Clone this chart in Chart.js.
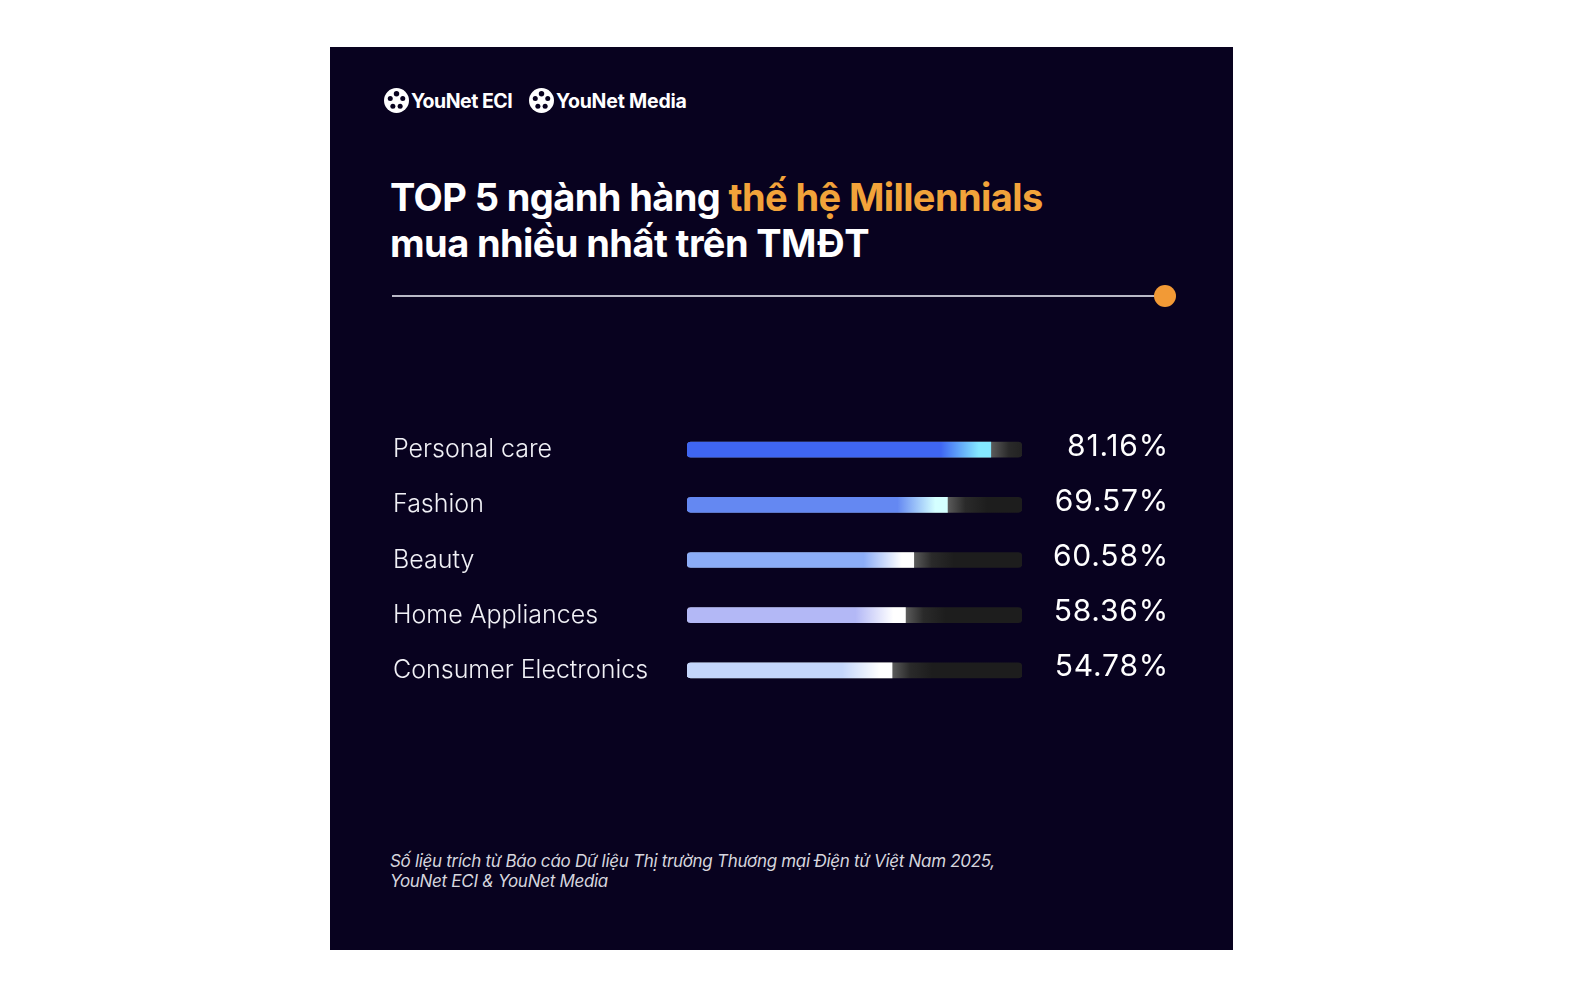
<!DOCTYPE html>
<html><head><meta charset="utf-8">
<script src="https://cdn.jsdelivr.net/npm/chart.js@4/dist/chart.umd.min.js"></script>
<style>
html,body{margin:0;padding:0;background:#fff;width:1576px;height:994px;overflow:hidden;font-family:Inter,"Noto Sans",sans-serif;}
#panel{position:absolute;left:330px;top:47px;width:903px;height:903px;background:#08021f;}
.logo{position:absolute;top:88px;height:25px;display:flex;align-items:center;color:#fff;font-weight:700;font-size:19.5px;letter-spacing:-0.5px;}
.logo svg{margin-right:2px}
#title{position:absolute;left:390px;top:174px;color:#fff;font-weight:700;font-size:38px;line-height:46px;letter-spacing:-0.6px;white-space:nowrap;}
#title .hl{color:#f2a33a}
#rule{position:absolute;left:392px;top:295px;width:766px;height:2px;background:#b9b9c6;}
#dot{position:absolute;left:1154px;top:285px;width:22px;height:22px;border-radius:50%;background:#f29a36;}
#note{position:absolute;left:390px;top:851px;color:#d6d6de;font-style:italic;font-size:17px;line-height:20px;letter-spacing:-0.3px;white-space:nowrap;}
#wrap{position:absolute;left:393px;top:402px;width:790px;height:316px;}
</style></head>
<body>
<div id="panel"></div>
<div class="logo" style="left:384px"><svg width="25" height="25" viewBox="0 0 24 24"><circle cx="12" cy="12" r="12" fill="#fff"/><circle cx="12" cy="5.5" r="2.6" fill="#08021f"/><circle cx="6" cy="10" r="2.4" fill="#08021f"/><circle cx="18" cy="10" r="2.4" fill="#08021f"/><circle cx="8.5" cy="17.5" r="2.4" fill="#08021f"/><circle cx="15.5" cy="17.5" r="2.4" fill="#08021f"/></svg>YouNet ECI</div>
<div class="logo" style="left:529px;letter-spacing:-0.2px"><svg width="25" height="25" viewBox="0 0 24 24"><circle cx="12" cy="12" r="12" fill="#fff"/><circle cx="12" cy="5.5" r="2.6" fill="#08021f"/><circle cx="6" cy="10" r="2.4" fill="#08021f"/><circle cx="18" cy="10" r="2.4" fill="#08021f"/><circle cx="8.5" cy="17.5" r="2.4" fill="#08021f"/><circle cx="15.5" cy="17.5" r="2.4" fill="#08021f"/></svg>YouNet Media</div>
<div id="title">TOP 5 ngành hàng <span class="hl">thế hệ Millennials</span><br>mua nhiều nhất trên TMĐT</div>
<div id="rule"></div><div id="dot"></div>
<div id="wrap"><canvas id="c" width="790" height="316"></canvas></div>
<div id="note">Số liệu trích từ Báo cáo Dữ liệu Thị trường Thương mại Điện tử Việt Nam 2025,<br>YouNet ECI &amp; YouNet Media</div>
<script>
const categories = ["Personal care","Fashion","Beauty","Home Appliances","Consumer Electronics"];
const values = [81.16, 69.57, 60.58, 58.36, 54.78];
const valueLabels = ["81.16%","69.57%","60.58%","58.36%","54.78%"];
const AXIS_MAX = 89.5;

const barColors = ["#3f66f2","#6488f2","#8cadf7","#b3b8f6","#c4d6fb"];
const tipColors = ["#84e8ff","#d4ffff","#ffffff","#ffffff","#ffffff"];
const trackValues = categories.map(() => AXIS_MAX);

function barFill(ctx){
  const chart = ctx.chart, i = ctx.dataIndex;
  if(!chart.chartArea || !chart.scales.x) return barColors[i];
  const sx = chart.scales.x;
  const x0 = sx.getPixelForValue(0), x1 = sx.getPixelForValue(values[i]);
  const L = x1 - x0;
  const g = chart.ctx.createLinearGradient(x0,0,x1,0);
  g.addColorStop(0, barColors[i]);
  g.addColorStop(Math.max(0,(L-50)/L), barColors[i]);
  g.addColorStop((L-12)/L, tipColors[i]);
  g.addColorStop(1, tipColors[i]);
  return g;
}
function trackFill(ctx){
  const chart = ctx.chart, i = ctx.dataIndex;
  if(!chart.chartArea || !chart.scales.x) return "#1d1d1d";
  const sx = chart.scales.x;
  const x1 = sx.getPixelForValue(values[i]);
  const g = chart.ctx.createLinearGradient(x1,0,x1+40,0);
  g.addColorStop(0, "#5c5c5c");
  g.addColorStop(0.45, "#2a2a2a");
  g.addColorStop(1, "#1d1d1d");
  return g;
}
const valuePlugin = {
  id:'valueLabels',
  afterDatasetsDraw(chart){
    const meta = chart.getDatasetMeta(0);
    const c = chart.ctx;
    c.save();
    c.fillStyle = "#ffffff";
    c.font = "400 30px Inter, 'Noto Sans', sans-serif";
    if ('letterSpacing' in c) c.letterSpacing = "0.8px";
    c.textAlign = "right";
    c.textBaseline = "middle";
    meta.data.forEach((el,i)=>{ c.fillText(valueLabels[i], 776, el.y - 3); });
    c.restore();
  }
};
new Chart(document.getElementById('c'), {
  type:'bar',
  data:{
    labels: categories,
    datasets:[
      {data: values, backgroundColor: barFill, barThickness:15, grouped:false, order:0,
       borderRadius:{topLeft:4,bottomLeft:4,topRight:0,bottomRight:0}, borderSkipped:false},
      {data: trackValues, backgroundColor: trackFill, barThickness:15, grouped:false, order:1,
       borderRadius:4, borderSkipped:false}
    ]
  },
  options:{
    indexAxis:'y', responsive:false, animation:false, devicePixelRatio:1,
    layout:{padding:{left:0,right:161,top:20,bottom:20}},
    plugins:{legend:{display:false}, tooltip:{enabled:false}},
    scales:{
      x:{display:false, min:0, max:AXIS_MAX, grid:{display:false}},
      y:{
        grid:{display:false}, border:{display:false},
        afterFit(s){ s.width = 294; },
        ticks:{crossAlign:'far', color:"#f1f1f6", padding:0,
          font:{family:"Inter, 'Noto Sans', sans-serif", size:25, weight:'300'}}
      }
    }
  },
  plugins:[valuePlugin]
});
</script>
</body></html>
